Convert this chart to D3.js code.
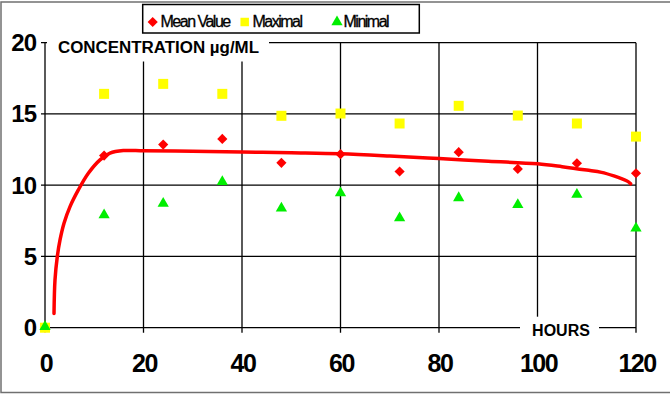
<!DOCTYPE html>
<html lang="en">
<head>
<meta charset="utf-8">
<title>Concentration</title>
<script src="https://d3js.org/d3.v7.min.js"></script>
<style>
  body { margin: 0; background: #fff; }
  text { font-family: "Liberation Sans", Arial, sans-serif; fill: #000; }
  .tick-y { font-size: 24px; font-weight: bold; letter-spacing: -1px; }
  .tick-x { font-size: 25px; font-weight: bold; letter-spacing: -1.5px; }
  .title { font-size: 16px; font-weight: bold; }
  .legend text { font-size: 16px; letter-spacing: -1.5px; stroke: #000; stroke-width: 0.3px; }
</style>
</head>
<body>
<div id="chart"></div>
<script>
"use strict"

// data
var hours = [0, 12, 24, 36, 48, 60, 72, 84, 96, 108, 120];
var meanValue = [0, 12.08, 12.85, 13.25, 11.57, 12.18, 10.96, 12.32, 11.14, 11.54, 10.84];
var maximal   = [0, 16.41, 17.11, 16.41, 14.87, 15.03, 14.33, 15.57, 14.89, 14.33, 13.41];
var minimal   = [0, 7.84, 8.64, 10.18, 8.31, 9.39, 7.63, 9.04, 8.55, 9.27, 6.91];

// fitted trend line (red), read as points
var trendHours  = [1.83, 2.03, 2.5, 3.05, 3.86, 5.08, 6.77, 8.8, 11.17, 13.2, 15.9, 20, 30, 40, 50, 60, 70, 80, 90, 100, 105, 110, 113, 115.5, 117.3, 118.4, 118.9];
var trendValues = [1.0, 3.35, 5.0, 6.16, 7.33, 8.5, 9.67, 10.84, 11.78, 12.25, 12.43, 12.42, 12.38, 12.33, 12.27, 12.2, 12.05, 11.87, 11.68, 11.5, 11.3, 11.06, 10.9, 10.65, 10.42, 10.25, 10.1];

var xTicks = [0, 20, 40, 60, 80, 100, 120];
var yTicks = [0, 5, 10, 15, 20];
var seriesNames = ["Mean Value", "Maximal", "Minimal"];

var W = 670, H = 394;
var svg = d3.select("#chart").append("svg")
  .attr("width", W).attr("height", H);

// outer frame
svg.append("rect")
  .attr("x", 1).attr("y", 2).attr("width", W + 10).attr("height", H - 3.5)
  .attr("fill", "none").attr("stroke", "#707070").attr("stroke-width", 1.5);

var x = d3.scaleLinear().domain([0, 120]).range([45, 636]);
var y = d3.scaleLinear().domain([0, 20]).range([327.7, 42.7]);

// grid
svg.append("g").selectAll("line").data(xTicks.slice(1)).enter().append("line")
  .attr("x1", d => x(d)).attr("x2", d => x(d))
  .attr("y1", y(20)).attr("y2", y(0) + 5)
  .attr("stroke", "#000").attr("stroke-width", 1.3);
svg.append("g").selectAll("line").data(yTicks).enter().append("line")
  .attr("x1", x(0) - 4).attr("x2", x(120))
  .attr("y1", d => y(d)).attr("y2", d => y(d))
  .attr("stroke", "#000").attr("stroke-width", 1.3);
svg.append("line")
  .attr("x1", x(0)).attr("x2", x(0)).attr("y1", y(20)).attr("y2", y(0))
  .attr("stroke", "#000").attr("stroke-width", 1.3);

// axis titles with white boxes over the grid
svg.append("rect").attr("x", 47).attr("y", 36).attr("width", 222).attr("height", 25.5).attr("fill", "#fff");
svg.append("text").attr("class", "title").attr("x", 58).attr("y", 52.5)
  .attr("textLength", 201).attr("lengthAdjust", "spacingAndGlyphs")
  .text("CONCENTRATION µg/ML");
svg.append("rect").attr("x", 520).attr("y", 316.7).attr("width", 79).attr("height", 22).attr("fill", "#fff");
svg.append("text").attr("class", "title").attr("x", 561).attr("y", 336)
  .attr("text-anchor", "middle").text("HOURS");

// tick labels
svg.append("g").selectAll("text").data(yTicks).enter().append("text")
  .attr("class", "tick-y")
  .attr("x", 36).attr("y", d => y(d) + 8.5)
  .attr("text-anchor", "end").text(d => d);
svg.append("g").selectAll("text").data(xTicks).enter().append("text")
  .attr("class", "tick-x")
  .attr("x", d => x(d) + 1).attr("y", 372)
  .attr("text-anchor", "middle").text(d => d);

// trend line
var line = d3.line().x(d => x(d[0])).y(d => y(d[1])).curve(d3.curveCatmullRom.alpha(0.5));
svg.append("path")
  .datum(d3.zip(trendHours, trendValues))
  .attr("d", line)
  .attr("fill", "none").attr("stroke", "#ff0000").attr("stroke-width", 3.5)
  .attr("stroke-linecap", "round");

// markers
var diamond = d3.symbol().type(d3.symbolDiamond2).size(66);
var square = d3.symbol().type(d3.symbolSquare).size(100);
var triangle = d3.symbol().type(d3.symbolTriangle).size(55);

svg.append("g").selectAll("path").data(d3.zip(hours, meanValue)).enter().append("path")
  .attr("d", diamond)
  .attr("transform", d => "translate(" + x(d[0]) + "," + y(d[1]) + ")")
  .attr("fill", "#ff0000");
svg.append("g").selectAll("path").data(d3.zip(hours, maximal)).enter().append("path")
  .attr("d", square)
  .attr("transform", d => "translate(" + x(d[0]) + "," + y(d[1]) + ")")
  .attr("fill", "#ffff00");
svg.append("g").selectAll("path").data(d3.zip(hours, minimal)).enter().append("path")
  .attr("d", triangle)
  .attr("transform", d => "translate(" + x(d[0]) + "," + (y(d[1]) - 1) + ")")
  .attr("fill", "#00ee00");

// legend
var legend = svg.append("g").attr("class", "legend");
legend.append("rect")
  .attr("x", 142.7).attr("y", 4.5).attr("width", 276.6).attr("height", 28.5)
  .attr("fill", "#fff").attr("stroke", "#000").attr("stroke-width", 1.5);
var legendX = [152.7, 244.7, 337];
var legendTextX = [160.5, 252.5, 343.5];
var legendShapes = [diamond, d3.symbol().type(d3.symbolSquare).size(72), d3.symbol().type(d3.symbolTriangle).size(55)];
var legendColors = ["#ff0000", "#ffff00", "#00ee00"];
seriesNames.forEach(function(name, i) {
  legend.append("path").attr("d", legendShapes[i])
    .attr("transform", "translate(" + legendX[i] + ",22)")
    .attr("fill", legendColors[i]);
  legend.append("text").attr("x", legendTextX[i]).attr("y", 26.7).text(name);
});
</script>
</body>
</html>
